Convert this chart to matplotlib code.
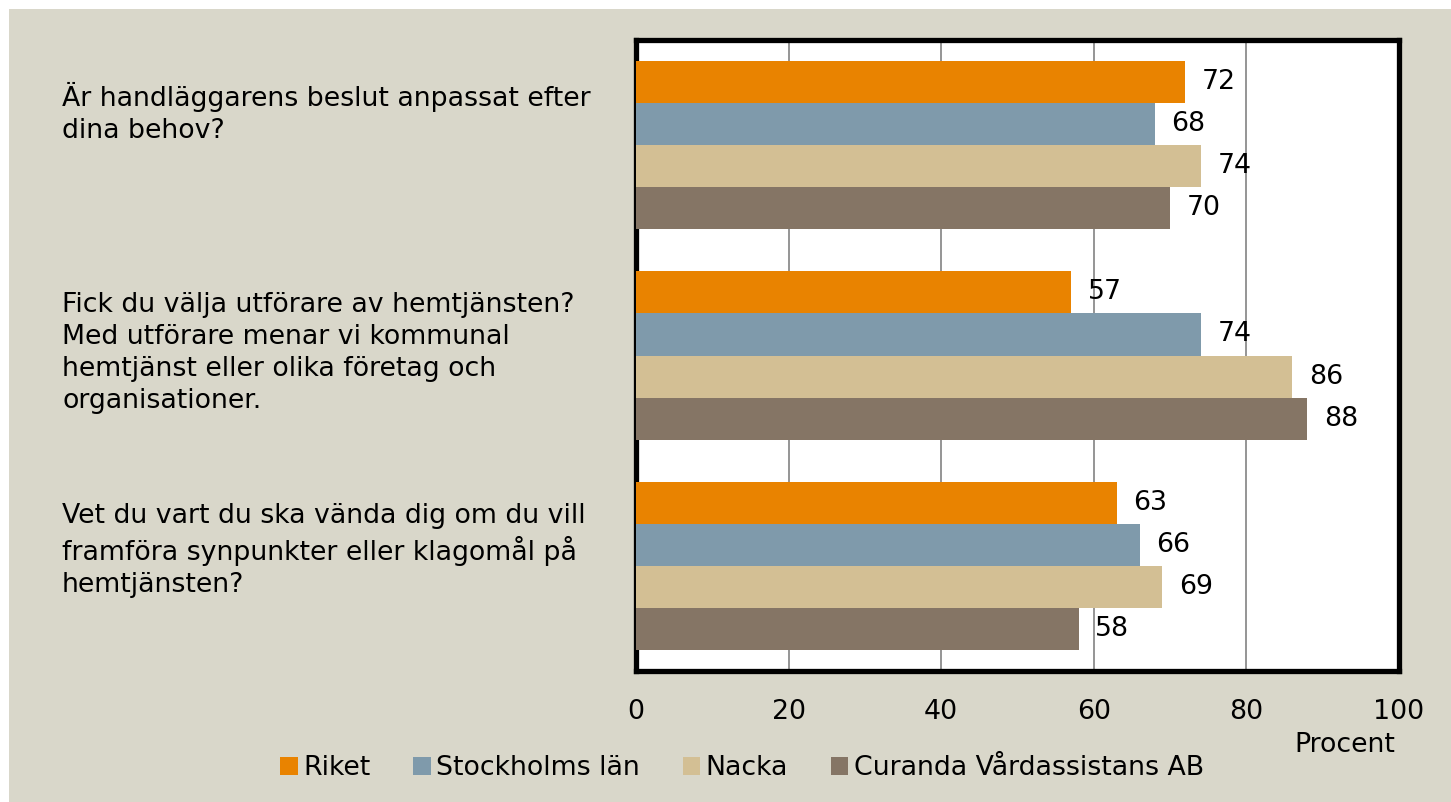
import matplotlib.pyplot as plt
import numpy as np
from matplotlib.patches import Rectangle
from matplotlib.transforms import blended_transform_factory

questions = [
    "Är handläggarens beslut anpassat efter\ndina behov?",
    "Fick du välja utförare av hemtjänsten?\nMed utförare menar vi kommunal\nhemtjänst eller olika företag och\norganisationer.",
    "Vet du vart du ska vända dig om du vill\nframföra synpunkter eller klagomål på\nhemtjänsten?",
]
series = ["Riket", "Stockholms län", "Nacka", "Curanda Vårdassistans AB"]
riket = [72, 57, 63]
stockholm = [68, 74, 66]
nacka = [74, 86, 69]
curanda = [70, 88, 58]
colors = ["#E98300", "#7F9AAB", "#D3BF94", "#857565"]
xticks = [0, 20, 40, 60, 80, 100]

plt.rcParams['font.family'] = ['DejaVu Sans']
fs = 19.3

fig = plt.figure(figsize=(14.51, 8.02), dpi=100)
fig.patch.set_facecolor("white")
fig.patches.append(Rectangle((9 / 1451, 0), 1, 1 - 9 / 802, transform=fig.transFigure,
                             facecolor="#D9D7CA", edgecolor="none", zorder=-10))

ax = fig.add_axes([636 / 1451, 1 - 671 / 802, 763 / 1451, 631 / 802])
ax.set_facecolor("white")

y = np.arange(len(questions))
h = 0.2
for i, (vals, name) in enumerate(zip([riket, stockholm, nacka, curanda], series)):
    pos = y - 0.3 + i * h
    bars = ax.barh(pos, vals, height=h, color=colors[i], label=name, zorder=3)
    for b, v in zip(bars, vals):
        ax.annotate(str(v), (v, b.get_y() + h / 2), xytext=(12, 0), textcoords="offset points",
                    va="center", ha="left", fontsize=fs, zorder=4)

ax.set_xlim(0, 100)
ax.set_ylim(2.5, -0.5)
ax.set_xticks(xticks)
ax.set_xticklabels([str(t) for t in xticks], fontsize=fs)
ax.tick_params(axis="x", length=0, pad=20)
ax.set_yticks([])
ax.grid(axis="x", color="#8C8C8C", linewidth=1.3, zorder=0)
for s in ax.spines.values():
    s.set_linewidth(3.8)
    s.set_color("black")

trans = blended_transform_factory(fig.transFigure, ax.transData)
for i, q in enumerate(questions):
    ax.text(62 / 1451, i - 0.30, q, transform=trans,
            ha="left", va="top", fontsize=fs, linespacing=1.3)

fig.text(1345 / 1451, 1 - 745 / 802, "Procent", ha="center", va="center", fontsize=fs)

fig.legend(loc="center", bbox_to_anchor=(742 / 1451, 1 - 768 / 802), ncol=4, frameon=False,
           fontsize=fs, handlelength=0.65, handleheight=0.65, handletextpad=0.2, columnspacing=1.6)

fig.savefig("out.png", dpi=100)
